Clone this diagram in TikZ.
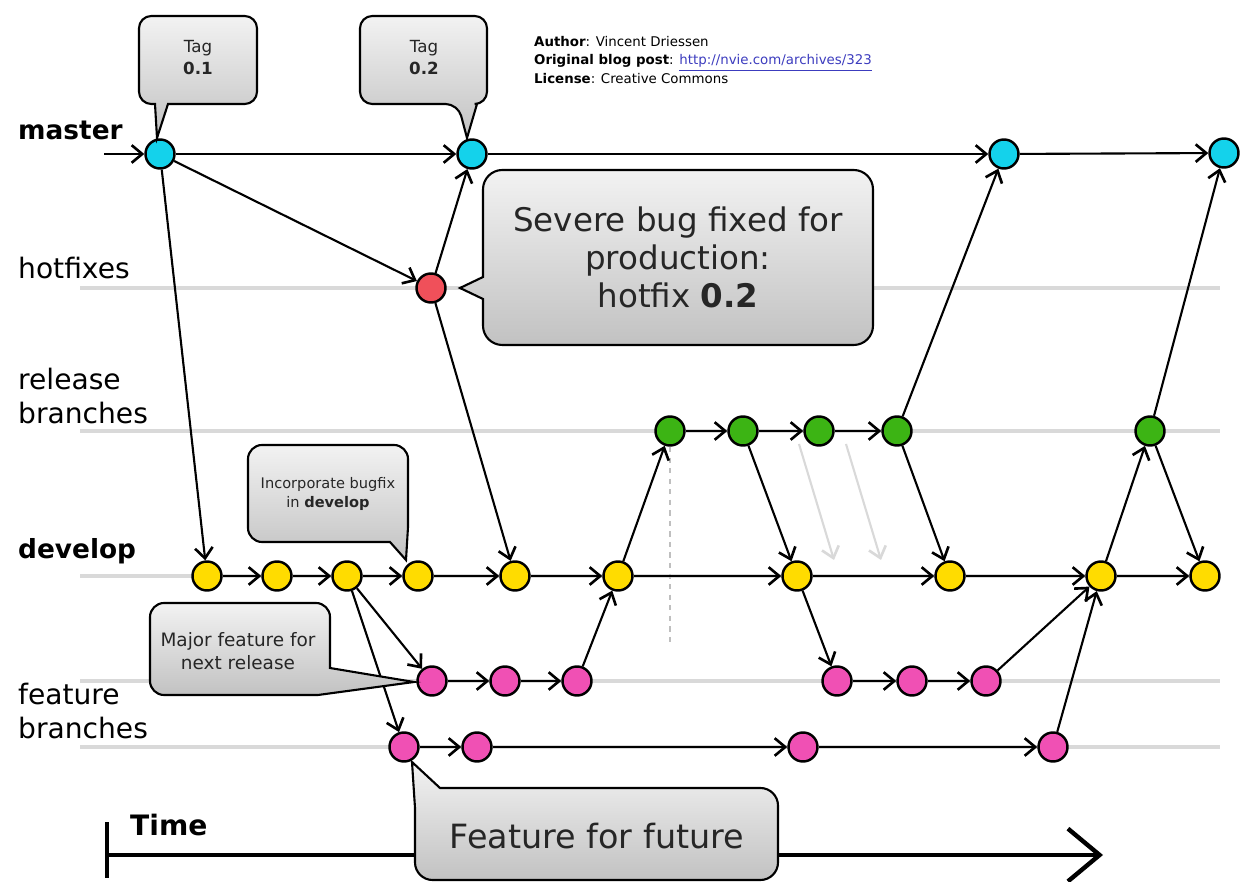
\documentclass[tikz,border=0pt]{standalone}
\usepackage{fontspec}
\setmainfont{DejaVu Sans}
\usetikzlibrary{arrows.meta}
\definecolor{mastercol}{RGB}{20,210,235}
\definecolor{hotfixcol}{RGB}{240,80,90}
\definecolor{releasecol}{RGB}{60,180,20}
\definecolor{developcol}{RGB}{255,220,0}
\definecolor{featurecol}{RGB}{240,80,180}
\definecolor{linkcol}{RGB}{60,60,190}

\begin{document}
\begin{tikzpicture}[x=0.2mm, y=-0.2mm,
  commit/.style={circle, draw=black, line width=1.4pt, minimum size=16.5pt, inner sep=0pt},
  mcommit/.style={commit, fill=mastercol},
  hcommit/.style={commit, fill=hotfixcol},
  rcommit/.style={commit, fill=releasecol},
  dcommit/.style={commit, fill=developcol},
  fcommit/.style={commit, fill=featurecol},
  flow/.style={-{Straight Barb[length=6pt,width=10pt,line width=1.5pt]}, line width=1.2pt},
  ghost/.style={flow, black!15},
  lane/.style={black!15, line width=2pt},
  lanelabel/.style={anchor=west, align=left, font=\fontsize{16}{19}\selectfont},
  bubble/.style={draw=black, line width=1.2pt, top color=black!5, bottom color=black!24},
  bubbletext/.style={align=center, text=black!85},
]

\useasboundingbox (0,0) rectangle (1241,882);

\draw [lane] (80,288) -- (1220,288);
\draw [lane] (80,431) -- (1220,431);
\draw [lane] (80,576) -- (1220,576);
\draw [lane] (80,681) -- (1220,681);
\draw [lane] (80,747) -- (1220,747);

\node [lanelabel, font=\fontsize{15}{18}\selectfont\bfseries] (lmaster) at (12,130) {master};
\node [lanelabel] (lhotfix) at (12,268) {hotfixes};
\node [lanelabel] (lrelease) at (12,396) {release\\branches};
\node [lanelabel, font=\fontsize{15}{18}\selectfont\bfseries] (ldevelop) at (12,551) {develop};
\node [lanelabel] (lfeature) at (12,711) {feature\\branches};

\node [anchor=west, align=left, font=\fontsize{7.6}{10.3}\selectfont] (credits) at (528,60)
  {\textbf{Author}: Vincent Driessen\\
   \textbf{Original blog post}: \textcolor{linkcol}{\underline{http://nvie.com/archives/323}}\\
   \textbf{License}: Creative Commons};

\draw [line width=1.2pt, dashed, black!25] (670,447) -- (670,645);

\node [mcommit] (m1) at (160,154) {};
\node [mcommit] (m2) at (472,154) {};
\node [mcommit] (m3) at (1004,154) {};
\node [mcommit] (m4) at (1224,153) {};

\node [hcommit] (h1) at (431,288) {};

\node [rcommit] (r1) at (670,431) {};
\node [rcommit] (r2) at (743,431) {};
\node [rcommit] (r3) at (819,431) {};
\node [rcommit] (r4) at (897,431) {};
\node [rcommit] (r5) at (1150,431) {};

\node [dcommit] (d1) at (207,576) {};
\node [dcommit] (d2) at (277,576) {};
\node [dcommit] (d3) at (347,576) {};
\node [dcommit] (d4) at (418,576) {};
\node [dcommit] (d5) at (515,576) {};
\node [dcommit] (d6) at (618,576) {};
\node [dcommit] (d7) at (797,576) {};
\node [dcommit] (d8) at (950,576) {};
\node [dcommit] (d9) at (1101,576) {};
\node [dcommit] (d10) at (1205,576) {};

\node [fcommit] (f1) at (432,681) {};
\node [fcommit] (f2) at (505,681) {};
\node [fcommit] (f3) at (577,681) {};
\node [fcommit] (f4) at (837,681) {};
\node [fcommit] (f5) at (912,681) {};
\node [fcommit] (f6) at (986,681) {};

\node [fcommit] (g1) at (404,747) {};
\node [fcommit] (g2) at (477,747) {};
\node [fcommit] (g3) at (803,747) {};
\node [fcommit] (g4) at (1053,747) {};

\coordinate (entry) at (104,154);
\draw [flow] (entry) -- (m1);
\draw [flow] (m1) -- (m2);
\draw [flow] (m2) -- (m3);
\draw [flow] (m3) -- (m4);

\draw [flow] (m1) -- (h1);
\draw [flow] (m1) -- (d1);
\draw [flow] (h1) -- (m2);
\draw [flow] (h1) -- (d5);

\draw [flow] (d1) -- (d2);
\draw [flow] (d2) -- (d3);
\draw [flow] (d3) -- (d4);
\draw [flow] (d4) -- (d5);
\draw [flow] (d5) -- (d6);
\draw [flow] (d6) -- (d7);
\draw [flow] (d7) -- (d8);
\draw [flow] (d8) -- (d9);
\draw [flow] (d9) -- (d10);

\draw [flow] (d3) -- (f1);
\draw [flow] (d3) -- (g1);
\draw [flow] (f1) -- (f2);
\draw [flow] (f2) -- (f3);
\draw [flow] (f3) -- (d6);
\draw [flow] (g1) -- (g2);
\draw [flow] (g2) -- (g3);
\draw [flow] (g3) -- (g4);
\draw [flow] (g4) -- (d9);
\draw [flow] (d7) -- (f4);
\draw [flow] (f4) -- (f5);
\draw [flow] (f5) -- (f6);
\draw [flow] (f6) -- (d9);

\draw [flow] (d6) -- (r1);
\draw [flow] (r1) -- (r2);
\draw [flow] (r2) -- (r3);
\draw [flow] (r3) -- (r4);
\draw [flow] (r2) -- (d7);
\draw [flow] (r4) -- (d8);
\draw [flow] (r4) -- (m3);
\draw [flow] (d9) -- (r5);
\draw [flow] (r5) -- (d10);
\draw [flow] (r5) -- (m4);

\coordinate (ghostA) at (799,444);
\coordinate (ghostB) at (834,560);
\coordinate (ghostC) at (846,444);
\coordinate (ghostD) at (881,560);
\draw [ghost] (ghostA) -- (ghostB);
\draw [ghost] (ghostC) -- (ghostD);

\coordinate (time0) at (108,855);
\coordinate (time1) at (1103,855);
\draw [line width=2.5pt] (107,822) -- (107,878);
\draw [line width=2.5pt, -{Straight Barb[length=18pt,width=30pt,line width=2.5pt]}] (time0) -- (time1);
\node [anchor=west, font=\fontsize{16}{19}\selectfont\bfseries] (ltime) at (124,825) {Time};

\draw [bubble] (257,60) [rounded corners=7pt] -- (257,16) -- (139,16) -- (139,104) [sharp corners] -- (155,104) -- (157,138) -- (168,104) [rounded corners=7pt] -- (257,104) -- cycle;
\node [bubbletext, font=\fontsize{9.5}{12.5}\selectfont] (tag1) at (198,58) {Tag\\\textbf{0.1}};

\draw [bubble] (487,60) [rounded corners=7pt] -- (487,16) -- (360,16) -- (360,104) -- (458,104) [sharp corners] -- (467,138) -- (477,104) [rounded corners=7pt] -- (487,104) -- cycle;
\node [bubbletext, font=\fontsize{9.5}{12.5}\selectfont] (tag2) at (424,58) {Tag\\\textbf{0.2}};

\draw [bubble] (873,257) [rounded corners=11pt] -- (873,170) -- (483,170) [sharp corners] -- (483,277) -- (460,288) -- (483,299) [rounded corners=11pt] -- (483,345) -- (873,345) -- cycle;
\node [bubbletext, font=\fontsize{18.5}{21.6}\selectfont] (hotfixnote) at (678,257) {Severe bug fixed for\\production:\\hotfix \textbf{0.2}};

\draw [bubble] (248,493) [rounded corners=8pt] -- (248,445) -- (408,445) [sharp corners] -- (408,527) -- (406,560) -- (390,542) [rounded corners=8pt] -- (248,542) -- cycle;
\node [bubbletext, font=\fontsize{8.3}{10.5}\selectfont] (bugfixnote) at (328,494) {Incorporate bugfix\\in \textbf{develop}};

\draw [bubble] (150,650) [rounded corners=8pt] -- (150,603) -- (330,603) [sharp corners] -- (330,668) -- (414,682) -- (318,695) [rounded corners=8pt] -- (150,695) -- cycle;
\node [bubbletext, font=\fontsize{10.5}{13}\selectfont] (majornote) at (238,651) {Major feature for\\next release};

\draw [bubble] (778,835) [rounded corners=10pt] -- (778,880) -- (415,880) [sharp corners] -- (415,808) -- (412,762) -- (440,788) [rounded corners=10pt] -- (778,788) -- cycle;
\node [bubbletext, font=\fontsize{19}{22}\selectfont] (futurenote) at (597,836) {Feature for future};

\end{tikzpicture}
\end{document}
